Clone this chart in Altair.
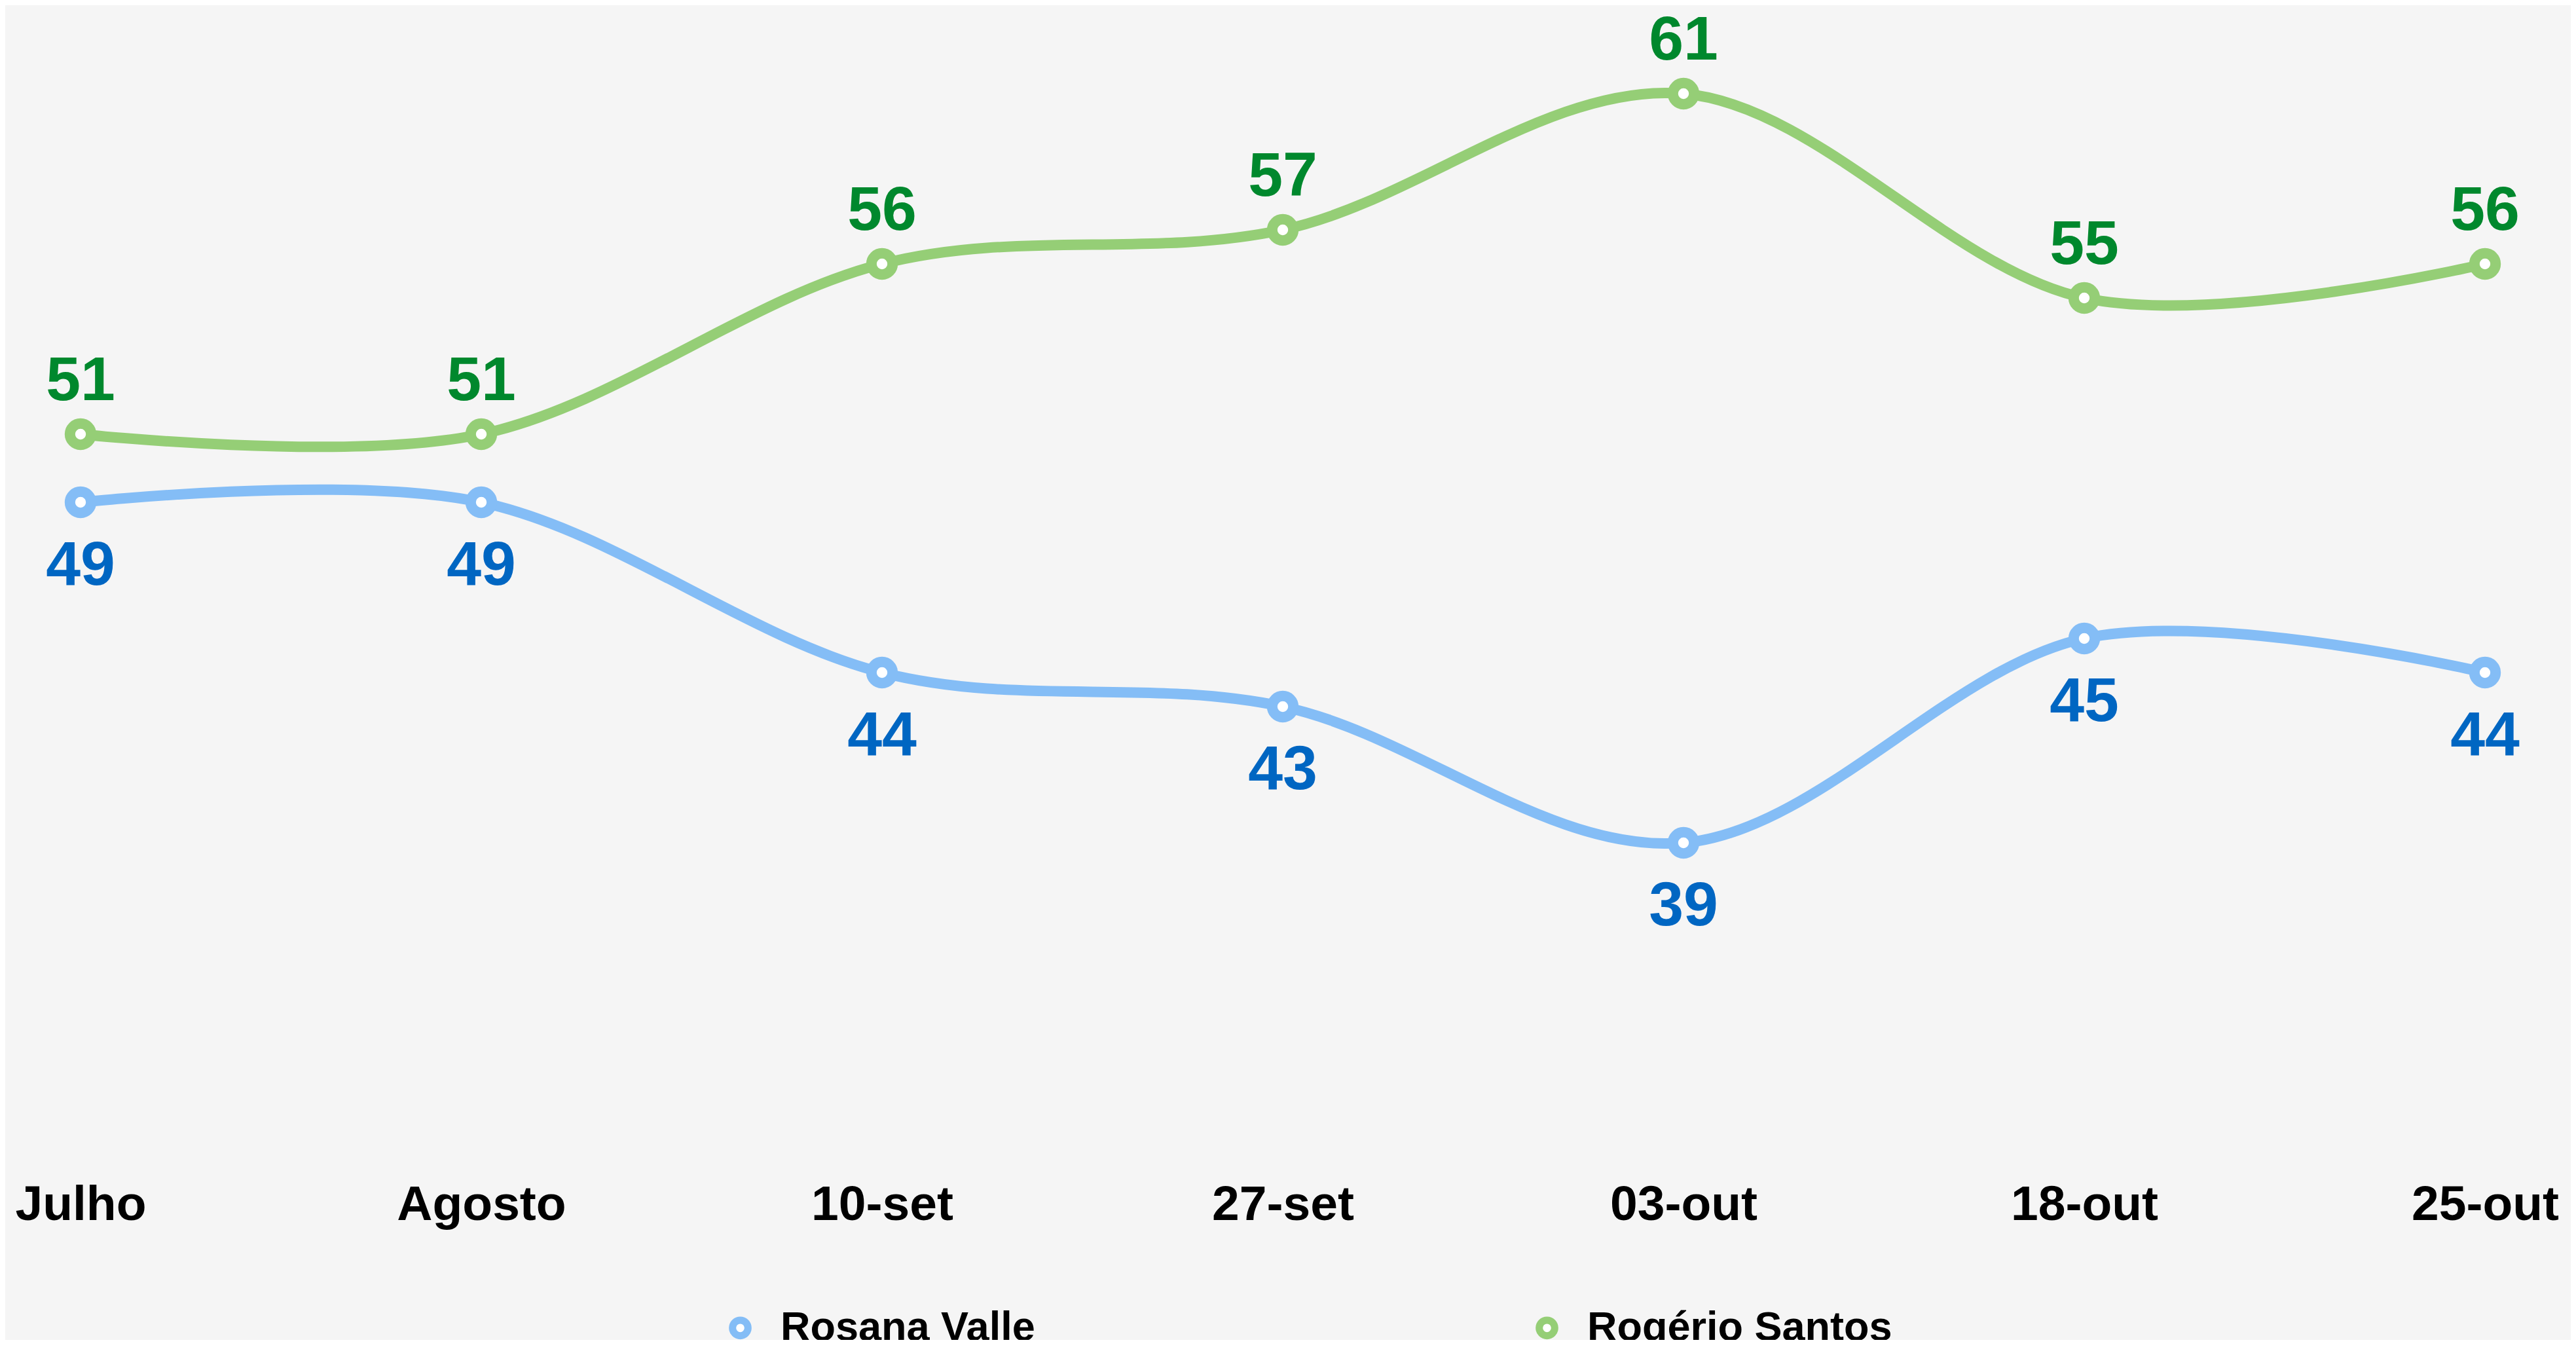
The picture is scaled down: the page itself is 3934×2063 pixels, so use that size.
import altair as alt
import pandas as pd

dates = ["Julho", "Agosto", "10-set", "27-set", "03-out", "18-out", "25-out"]
series_names = ["Rosana Valle", "Rogério Santos"]
rosana = [49, 49, 44, 43, 39, 45, 44]
rogerio = [51, 51, 56, 57, 61, 55, 56]
line_colors = ["#84bdf6", "#95ce76"]
label_colors = ["#0066c2", "#00882d"]

rows = []
for d, v in zip(dates, rosana):
    rows.append({"date": d, "value": v, "serie": series_names[0]})
for d, v in zip(dates, rogerio):
    rows.append({"date": d, "value": v, "serie": series_names[1]})
df = pd.DataFrame(rows)

FONT = "Liberation Sans"
W, H = 3918, 2038

legend = alt.Legend(
    orient="none", legendX=1091, legendY=1988, direction="horizontal", title=None,
    symbolType="circle", symbolSize=560, symbolStrokeWidth=11, symbolFillColor="white",
    labelFontSize=63, labelFont=FONT, labelFontWeight="bold", labelColor="black",
    labelOffset=30, columnPadding=747, padding=0, labelLimit=0,
)
color = alt.Color("serie:N", scale=alt.Scale(domain=series_names, range=line_colors), legend=legend)

x = alt.X(
    "date:N", sort=dates,
    scale=alt.Scale(type="point", range=[115, 3787], padding=0),
    axis=alt.Axis(
        orient="bottom", offset=-184, domain=False, ticks=False, tickSize=0, grid=False,
        labelPadding=0, labelBaseline="alphabetic", labelFontSize=75, labelFont=FONT,
        labelFontWeight="bold", labelColor="black", labelAngle=0, title=None,
        labelOverlap=False, labelLimit=0,
    ),
)
y = alt.Y("value:Q", scale=alt.Scale(domain=[24.404, 63.596], nice=False, zero=False), axis=None)

base = alt.Chart(df).encode(x=x, y=y)

lines = base.mark_line(interpolate="cardinal", strokeWidth=16).encode(color=color, detail="serie:N")
points = base.mark_point(
    shape="circle", filled=False, fill="white", fillOpacity=1, opacity=1,
    strokeWidth=16, size=1050,
).encode(color=color)

txt_blue = base.transform_filter(alt.datum.serie == series_names[0]).mark_text(
    font=FONT, fontWeight="bold", fontSize=95, baseline="alphabetic", dy=126,
    color=label_colors[0],
).encode(text="value:Q")
txt_green = base.transform_filter(alt.datum.serie == series_names[1]).mark_text(
    font=FONT, fontWeight="bold", fontSize=95, baseline="alphabetic", dy=-52,
    color=label_colors[1],
).encode(text="value:Q")

chart = alt.layer(lines, points, txt_blue, txt_green).properties(
    width=W, height=H,
    autosize=alt.AutoSizeParams(type="none"),
    padding=0,
    background="#f5f5f5",
).configure_view(stroke=None, fill="#f5f5f5")

chart.save("out.html", embed_options={"renderer": "svg", "actions": False})
